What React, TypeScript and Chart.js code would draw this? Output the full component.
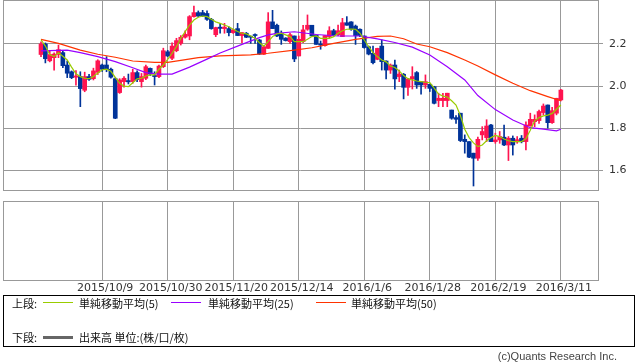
import React, { useEffect, useRef } from "react";
import { Chart, registerables } from "chart.js";
Chart.register(...registerables);

// ---- data ----
const opens = [
  2.15, 2.20, 2.12, 2.135, 2.15, 2.159, 2.10, 2.068, 2.042, 2.045,
  1.98, 2.045, 2.035, 2.065, 2.10, 2.10, 2.08, 2.035, 1.969, 2.021,
  2.026, 2.021, 2.064, 2.021, 2.037, 2.084, 2.05, 2.045, 2.092, 2.163,
  2.132, 2.168, 2.203, 2.232, 2.238, 2.33, 2.349, 2.349, 2.345, 2.317,
  2.244, 2.28, 2.273, 2.273, 2.254, 2.273, 2.24, 2.251, 2.235, 2.245,
  2.219, 2.151, 2.179, 2.305, 2.289, 2.251, 2.228, 2.211, 2.238, 2.143,
  2.211, 2.27, 2.289, 2.243, 2.2, 2.192, 2.235, 2.263, 2.244, 2.235,
  2.301, 2.305, 2.285, 2.27, 2.238, 2.187, 2.156, 2.127, 2.19, 2.119,
  2.076, 2.10, 2.045, 2.056, 1.994, 2.034, 2.064, 2.021, 2.005, 2.008,
  1.997, 1.931, 1.931, 1.931, 1.886, 1.85, 1.871, 1.747, 1.736, 1.681,
  1.657, 1.768, 1.755, 1.815, 1.736, 1.744, 1.757, 1.72, 1.752, 1.735,
  1.752, 1.736, 1.81, 1.831, 1.836, 1.874, 1.91, 1.826, 1.871, 1.934,
];
const highs = [
  2.21, 2.205, 2.165, 2.158, 2.195, 2.165, 2.119, 2.072, 2.073, 2.068,
  2.066, 2.056, 2.085, 2.125, 2.105, 2.14, 2.085, 2.04, 2.035, 2.045,
  2.057, 2.08, 2.072, 2.06, 2.10, 2.086, 2.068, 2.10, 2.18, 2.17,
  2.205, 2.227, 2.24, 2.263, 2.335, 2.38, 2.357, 2.36, 2.358, 2.322,
  2.28, 2.298, 2.298, 2.282, 2.27, 2.298, 2.254, 2.255, 2.238, 2.248,
  2.222, 2.19, 2.349, 2.36, 2.295, 2.262, 2.23, 2.251, 2.238, 2.238,
  2.289, 2.338, 2.289, 2.243, 2.214, 2.24, 2.282, 2.27, 2.29, 2.322,
  2.33, 2.306, 2.29, 2.272, 2.238, 2.19, 2.19, 2.18, 2.219, 2.12,
  2.105, 2.124, 2.076, 2.06, 2.037, 2.092, 2.069, 2.021, 2.053, 2.008,
  1.999, 1.966, 1.966, 1.966, 1.886, 1.86, 1.871, 1.768, 1.736, 1.681,
  1.757, 1.807, 1.84, 1.818, 1.776, 1.784, 1.815, 1.76, 1.763, 1.76,
  1.765, 1.83, 1.871, 1.863, 1.886, 1.915, 1.91, 1.899, 1.942, 1.985,
];
const lows = [
  2.14, 2.11, 2.115, 2.076, 2.135, 2.087, 2.04, 2.035, 2.004, 1.902,
  1.973, 2.027, 2.029, 2.055, 2.07, 2.068, 2.038, 1.845, 1.965, 1.995,
  2.01, 2.013, 2.021, 1.995, 2.03, 2.05, 2.005, 2.04, 2.088, 2.14,
  2.125, 2.163, 2.195, 2.227, 2.22, 2.327, 2.33, 2.33, 2.312, 2.27,
  2.235, 2.251, 2.251, 2.238, 2.25, 2.24, 2.206, 2.23, 2.203, 2.203,
  2.15, 2.15, 2.179, 2.273, 2.235, 2.198, 2.214, 2.203, 2.116, 2.143,
  2.206, 2.265, 2.238, 2.198, 2.175, 2.19, 2.23, 2.24, 2.24, 2.235,
  2.289, 2.265, 2.198, 2.235, 2.18, 2.148, 2.105, 2.125, 2.076, 2.034,
  2.06, 1.985, 2.021, 1.939, 1.955, 1.986, 1.989, 1.961, 1.989, 1.974,
  1.915, 1.902, 1.902, 1.902, 1.842, 1.823, 1.736, 1.681, 1.66, 1.525,
  1.646, 1.744, 1.736, 1.736, 1.728, 1.728, 1.717, 1.646, 1.672, 1.728,
  1.73, 1.696, 1.81, 1.807, 1.823, 1.863, 1.80, 1.823, 1.863, 1.929,
];
const closes = [
  2.20, 2.13, 2.15, 2.152, 2.173, 2.097, 2.061, 2.04, 2.048, 1.988,
  2.045, 2.032, 2.072, 2.12, 2.08, 2.078, 2.042, 1.847, 2.029, 2.037,
  2.02, 2.064, 2.031, 2.045, 2.092, 2.057, 2.045, 2.095, 2.168, 2.143,
  2.19, 2.216, 2.232, 2.246, 2.33, 2.349, 2.333, 2.333, 2.317, 2.273,
  2.278, 2.274, 2.28, 2.254, 2.267, 2.24, 2.254, 2.232, 2.232, 2.24,
  2.152, 2.187, 2.305, 2.273, 2.238, 2.222, 2.216, 2.244, 2.129, 2.222,
  2.267, 2.289, 2.238, 2.198, 2.195, 2.24, 2.263, 2.24, 2.263, 2.301,
  2.289, 2.27, 2.24, 2.24, 2.183, 2.152, 2.111, 2.179, 2.116, 2.076,
  2.10, 2.034, 2.057, 1.994, 2.034, 2.045, 2.005, 2.005, 2.021, 1.989,
  1.918, 1.942, 1.942, 1.966, 1.847, 1.842, 1.741, 1.736, 1.662, 1.657,
  1.747, 1.784, 1.81, 1.736, 1.744, 1.76, 1.72, 1.752, 1.72, 1.745,
  1.736, 1.815, 1.842, 1.842, 1.879, 1.905, 1.826, 1.883, 1.942, 1.981,
];

// moving averages read at sample positions: [bar index, value]
const ma5: [number, number][] = [
  [0, 2.22], [1, 2.19], [2, 2.15], [3, 2.14], [4, 2.158], [5, 2.142], [6, 2.124], [7, 2.09],
  [8, 2.058], [9, 2.045], [10, 2.037], [11, 2.035], [12, 2.045], [13, 2.062], [14, 2.077],
  [15, 2.08], [16, 2.07], [17, 2.041], [18, 2.013], [19, 2.0], [20, 1.997], [21, 2.016],
  [22, 2.034], [23, 2.037], [24, 2.048], [25, 2.053], [26, 2.053], [27, 2.08], [28, 2.1],
  [29, 2.127], [30, 2.156], [31, 2.187], [32, 2.227], [33, 2.259], [34, 2.29], [35, 2.314],
  [36, 2.327], [37, 2.333], [38, 2.33], [39, 2.317], [40, 2.305], [41, 2.298], [42, 2.29],
  [43, 2.282], [44, 2.27], [45, 2.259], [46, 2.251], [47, 2.248], [48, 2.238], [49, 2.227],
  [50, 2.206], [51, 2.19], [52, 2.211], [53, 2.235], [54, 2.248], [55, 2.251], [56, 2.243],
  [57, 2.235], [58, 2.211], [59, 2.211], [60, 2.211], [61, 2.222], [62, 2.235], [63, 2.238],
  [64, 2.227], [65, 2.227], [66, 2.227], [67, 2.235], [68, 2.251], [69, 2.263], [70, 2.27],
  [71, 2.271], [72, 2.27], [73, 2.251], [74, 2.219], [75, 2.187], [76, 2.159], [77, 2.14],
  [78, 2.124], [79, 2.115], [80, 2.095], [81, 2.088], [82, 2.072], [83, 2.05], [84, 2.035],
  [85, 2.029], [86, 2.024], [87, 2.021], [88, 2.018], [89, 2.016], [90, 1.99], [91, 1.962],
  [92, 1.952], [93, 1.948], [94, 1.93], [95, 1.91], [96, 1.86], [97, 1.795], [98, 1.755],
  [99, 1.73], [100, 1.712], [101, 1.72], [102, 1.74], [103, 1.755], [104, 1.765], [105, 1.76],
  [106, 1.748], [107, 1.74], [108, 1.736], [109, 1.736], [110, 1.736], [111, 1.75], [112, 1.79],
  [113, 1.835], [114, 1.85], [115, 1.858], [116, 1.862], [117, 1.87], [118, 1.89], [119, 1.91],
];
const ma25: [number, number][] = [
  [0, 2.167], [6, 2.171], [9, 2.159], [13, 2.14], [17, 2.116], [21, 2.087], [24, 2.064],
  [27, 2.057], [30, 2.057], [34, 2.09], [38, 2.128], [41, 2.157], [46, 2.198], [50, 2.23],
  [52, 2.243], [54, 2.25], [58, 2.258], [63, 2.245], [68, 2.238], [73, 2.238], [77, 2.224],
  [81, 2.207], [85, 2.185], [89, 2.148], [93, 2.092], [97, 2.029], [100, 1.955], [104, 1.888],
  [108, 1.839], [112, 1.802], [115, 1.795], [118, 1.787], [119, 1.795],
];
const ma50: [number, number][] = [
  [0, 2.222], [4, 2.203], [9, 2.171], [13, 2.151], [17, 2.137], [21, 2.119], [26, 2.113],
  [29, 2.113], [32, 2.122], [36, 2.135], [41, 2.143], [48, 2.148], [52, 2.156], [58, 2.171],
  [62, 2.182], [67, 2.203], [72, 2.222], [77, 2.236], [80, 2.238], [83, 2.225], [86, 2.2],
  [89, 2.187], [93, 2.159], [97, 2.124], [100, 2.095], [104, 2.053], [108, 2.013],
  [112, 1.978], [116, 1.95], [119, 1.93],
];

const tickIndices = [14, 29, 44, 59, 74, 89, 104, 119];
const tickLabels = [
  "2015/10/9", "2015/10/30", "2015/11/20", "2015/12/14",
  "2016/1/6", "2016/1/28", "2016/2/19", "2016/3/11",
];
const priceTicks = [1.6, 1.8, 2.0, 2.2];

// ---- style ----
const X_MIN = -8.7;
const X_MAX = 127.5;
const Y_MIN = 1.506;
const Y_MAX = 2.409;
const UP = "#FF1450";
const DOWN = "#003399";
const GRID = "#999999";

const framePlugin = {
  id: "frame",
  afterDraw(chart: any) {
    const { ctx, chartArea: a } = chart;
    ctx.save();
    ctx.strokeStyle = GRID;
    ctx.lineWidth = 1;
    ctx.strokeRect(
      Math.round(a.left) + 0.5,
      Math.round(a.top) + 0.5,
      Math.round(a.right - a.left),
      Math.round(a.bottom - a.top)
    );
    ctx.restore();
  },
};

function setTicks(values: number[]) {
  return (s: any) => {
    s.ticks = values.map((v) => ({ value: v }));
  };
}

export default function App() {
  const topRef = useRef<HTMLCanvasElement>(null);
  const botRef = useRef<HTMLCanvasElement>(null);

  useEffect(() => {
    const colors = opens.map((o, i) => (closes[i] >= o ? UP : DOWN));
    const lineDs = (label: string, pts: [number, number][], color: string) => ({
      type: "line" as const,
      label,
      data: pts.map(([x, y]) => ({ x, y })),
      borderColor: color,
      borderWidth: 1.2,
      pointRadius: 0,
      tension: 0,
      order: 0,
    });
    const top = new Chart(topRef.current!, {
      type: "bar",
      data: {
        datasets: [
          lineDs("単純移動平均(5)", ma5, "#99CC00"),
          lineDs("単純移動平均(25)", ma25, "#9900FF"),
          lineDs("単純移動平均(50)", ma50, "#FF3300"),
          {
            type: "bar",
            label: "body",
            data: opens.map((o, i) => ({ x: i, y: [o, closes[i]] })) as any,
            backgroundColor: colors,
            barThickness: 4,
            minBarLength: 1,
            grouped: false,
            order: 1,
          },
          {
            type: "bar",
            label: "wick",
            data: lows.map((l, i) => ({ x: i, y: [l, highs[i]] })) as any,
            backgroundColor: colors,
            barThickness: 1,
            grouped: false,
            order: 2,
          },
        ] as any,
      },
      options: {
        animation: false,
        responsive: false,
        maintainAspectRatio: false,
        layout: { padding: { left: 3, right: 0, top: 0, bottom: 5 } },
        plugins: { legend: { display: false }, tooltip: { enabled: false } },
        scales: {
          x: {
            type: "linear",
            min: X_MIN,
            max: X_MAX,
            offset: false,
            grid: { color: GRID, drawTicks: false, offset: false },
            border: { display: false },
            ticks: { display: false },
            afterBuildTicks: setTicks(tickIndices),
            afterFit: (s: any) => {
              s.height = 0;
              s.paddingLeft = 0;
              s.paddingRight = 0;
            },
          },
          y: {
            type: "linear",
            position: "right",
            min: Y_MIN,
            max: Y_MAX,
            grid: { color: GRID, tickLength: 5 },
            border: { display: false },
            ticks: {
              padding: 6,
              color: "#333",
              font: { family: "DejaVu Sans", size: 11 },
              callback: (v: any) => Number(v).toFixed(1),
            },
            afterBuildTicks: setTicks(priceTicks),
            afterFit: (s: any) => {
              s.width = 40;
              s.paddingTop = 0;
              s.paddingBottom = 0;
            },
          },
        },
      } as any,
      plugins: [framePlugin],
    });

    const bot = new Chart(botRef.current!, {
      type: "line",
      data: { datasets: [{ label: "出来高", data: [] }] },
      options: {
        animation: false,
        responsive: false,
        maintainAspectRatio: false,
        layout: { padding: { left: 3, right: 0, top: 6, bottom: 0 } },
        plugins: { legend: { display: false }, tooltip: { enabled: false } },
        scales: {
          x: {
            type: "linear",
            min: X_MIN,
            max: X_MAX,
            grid: { color: GRID, drawTicks: false },
            border: { display: false },
            ticks: {
              padding: 2,
              labelOffset: 3,
              autoSkip: false,
              maxRotation: 0,
              minRotation: 0,
              color: "#333",
              font: { family: "DejaVu Sans", size: 11 },
              callback: (v: any) => {
                const k = tickIndices.indexOf(Number(v));
                return k >= 0 ? tickLabels[k] : "";
              },
            },
            afterBuildTicks: setTicks(tickIndices),
            afterFit: (s: any) => {
              s.height = 20;
              s.paddingLeft = 0;
              s.paddingRight = 0;
            },
          },
          y: {
            type: "linear",
            position: "right",
            min: 0,
            max: 1,
            grid: { display: false },
            border: { display: false },
            ticks: { display: false },
            afterFit: (s: any) => {
              s.width = 40;
              s.paddingTop = 0;
              s.paddingBottom = 0;
            },
          },
        },
      } as any,
      plugins: [framePlugin],
    });

    return () => {
      top.destroy();
      bot.destroy();
    };
  }, []);

  const jp: React.CSSProperties = {
    position: "absolute",
    fontFamily: "'Noto Sans CJK JP', sans-serif",
    fontSize: 11,
    lineHeight: "14px",
    color: "#111",
    whiteSpace: "nowrap",
  };
  const line = (left: number, y: number, w: number, h: number, c: string): React.CSSProperties => ({
    position: "absolute",
    left,
    top: y - h / 2,
    width: w,
    height: h,
    background: c,
  });

  return (
    <div
      style={{
        position: "absolute",
        left: 0,
        top: 0,
        width: 638,
        height: 362,
        background: "#fff",
        overflow: "hidden",
      }}
    >
      <canvas ref={topRef} width={638} height={195} style={{ position: "absolute", left: 0, top: 0 }} />
      <canvas ref={botRef} width={638} height={105} style={{ position: "absolute", left: 0, top: 195 }} />
      <div
        style={{
          position: "absolute",
          left: 3,
          top: 295,
          width: 632,
          height: 52,
          border: "1px solid #000",
          boxSizing: "border-box",
        }}
      />
      <span style={{ ...jp, left: 12, top: 296 }}>上段:</span>
      <div style={line(43, 302.5, 30, 1, "#99CC00")} />
      <span style={{ ...jp, left: 79, top: 296 }}>単純移動平均(5)</span>
      <div style={line(171, 302.5, 30, 1, "#9900FF")} />
      <span style={{ ...jp, left: 208, top: 296 }}>単純移動平均(25)</span>
      <div style={line(316, 302.5, 30, 1, "#FF3300")} />
      <span style={{ ...jp, left: 351, top: 296 }}>単純移動平均(50)</span>
      <span style={{ ...jp, left: 12, top: 330 }}>下段:</span>
      <div style={line(43, 337, 30, 3, "#666666")} />
      <span style={{ ...jp, left: 79, top: 330 }}>出来高 単位:(株/口/枚)</span>
      <span
        style={{
          position: "absolute",
          right: 21,
          top: 349,
          fontFamily: "'Liberation Sans', Arial, sans-serif",
          fontSize: 11,
          lineHeight: "14px",
          color: "#444",
          whiteSpace: "nowrap",
        }}
      >
        (c)Quants Research Inc.
      </span>
    </div>
  );
}
